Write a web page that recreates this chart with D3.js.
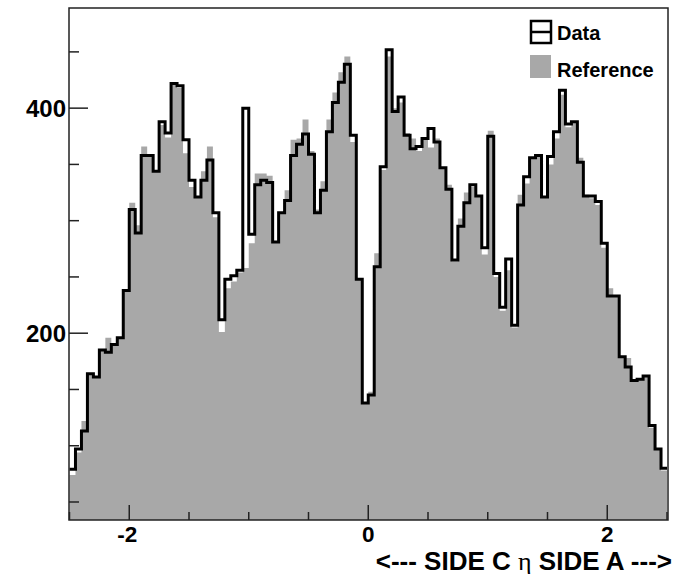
<!DOCTYPE html>
<html>
<head>
<meta charset="utf-8">
<script src="https://cdn.jsdelivr.net/npm/d3@7"></script>
<style>
  html, body { margin: 0; padding: 0; background: #fff; }
  svg { display: block; }
</style>
</head>
<body>
<div id="chart"></div>
<script>
// 100 bins in eta, from -2.5 to 2.5
const BIN_LOW = -2.5
const BIN_WIDTH = 0.05

// black step line
const dataCounts = [
  79, 97, 113, 164, 161, 185, 183, 190, 196, 238,
  310, 289, 358, 358, 344, 388, 378, 422, 420, 372,
  336, 321, 336, 354, 307, 212, 248, 251, 256, 400,
  288, 332, 336, 334, 281, 307, 318, 358, 368, 377,
  359, 307, 327, 379, 405, 423, 439, 376, 248, 138,
  145, 259, 348, 452, 397, 410, 376, 364, 366, 373,
  382, 370, 347, 328, 265, 295, 316, 332, 322, 276,
  375, 253, 223, 266, 207, 314, 339, 356, 358, 321,
  357, 379, 416, 386, 388, 352, 322, 322, 317, 280,
  233, 233, 179, 170, 158, 159, 162, 118, 97, 80
]

// grey filled histogram
const refCounts = [
  74, 94, 122, 163, 161, 185, 196, 190, 196, 238,
  316, 296, 366, 358, 344, 385, 374, 421, 418, 360,
  330, 321, 344, 366, 303, 201, 240, 246, 254, 258,
  280, 342, 342, 340, 281, 307, 327, 372, 373, 390,
  362, 310, 335, 390, 414, 432, 446, 370, 248, 138,
  148, 271, 345, 446, 400, 405, 378, 373, 362, 372,
  365, 373, 346, 332, 264, 302, 325, 330, 322, 270,
  380, 250, 220, 256, 205, 323, 333, 356, 358, 321,
  350, 373, 412, 383, 388, 356, 323, 320, 314, 276,
  240, 233, 179, 178, 158, 159, 162, 116, 97, 78
]

const xMajorTicks = [-2, 0, 2]
const xMinorTicks = [-2.5, -1.5, -1, -0.5, 0.5, 1, 1.5, 2.5]
const yMajorTicks = [200, 400]
const yMinorTicks = [50, 100, 150, 250, 300, 350, 450]
const legendLabels = ['Data', 'Reference']

const W = 688
const H = 574
const plot = { left: 69, right: 668, top: 8, bottom: 520 }
const GREY = '#a8a8a8'
const FONT = '"Liberation Sans", Arial, Helvetica, sans-serif'

const svg = d3.select('#chart').append('svg')
  .attr('width', W)
  .attr('height', H)

const x = d3.scaleLinear()
  .domain([BIN_LOW, BIN_LOW + BIN_WIDTH * dataCounts.length])
  .range([69.5, 667])

const y = d3.scaleLinear()
  .domain([34, 489])
  .range([plot.bottom, plot.top])

const bins = dataCounts.map((d, i) => ({
  lo: BIN_LOW + i * BIN_WIDTH,
  hi: BIN_LOW + (i + 1) * BIN_WIDTH,
  data: d,
  ref: refCounts[i]
}))

svg.append('clipPath').attr('id', 'clip')
  .append('rect')
  .attr('x', plot.left).attr('y', plot.top)
  .attr('width', plot.right - plot.left).attr('height', plot.bottom - plot.top)

const g = svg.append('g').attr('clip-path', 'url(#clip)')

// reference histogram (filled)
const refArea = d3.area()
  .x(d => x(d[0]))
  .y0(plot.bottom)
  .y1(d => y(d[1]))

const refPts = bins.flatMap(b => [[b.lo, b.ref], [b.hi, b.ref]])
g.append('path')
  .attr('d', refArea(refPts))
  .attr('fill', GREY)

// data histogram (outline)
const dataLine = d3.line()
  .x(d => x(d[0]))
  .y(d => y(d[1]))

const dataPts = bins.flatMap(b => [[b.lo, b.data], [b.hi, b.data]])
g.append('path')
  .attr('d', dataLine(dataPts))
  .attr('fill', 'none')
  .attr('stroke', '#000')
  .attr('stroke-width', 3)
  .attr('stroke-linejoin', 'miter')

// frame
svg.append('rect')
  .attr('x', plot.left).attr('y', plot.top)
  .attr('width', plot.right - plot.left).attr('height', plot.bottom - plot.top)
  .attr('fill', 'none')
  .attr('stroke', '#222')
  .attr('stroke-width', 1.5)

// y ticks (inward)
svg.append('g').selectAll('line.ymaj')
  .data(yMajorTicks)
  .join('line')
  .attr('x1', plot.left).attr('x2', plot.left + 19)
  .attr('y1', d => y(d)).attr('y2', d => y(d))
  .attr('stroke', '#222').attr('stroke-width', 1.5)

svg.append('g').selectAll('line.ymin')
  .data(yMinorTicks)
  .join('line')
  .attr('x1', plot.left).attr('x2', plot.left + 10)
  .attr('y1', d => y(d)).attr('y2', d => y(d))
  .attr('stroke', '#222').attr('stroke-width', 1.5)

svg.append('g').selectAll('text')
  .data(yMajorTicks)
  .join('text')
  .attr('x', plot.left - 3)
  .attr('y', d => y(d) + 8.5)
  .attr('text-anchor', 'end')
  .style('font-family', FONT)
  .style('font-weight', 'bold')
  .style('font-size', '24px')
  .text(d => d)

// x ticks (inward)
svg.append('g').selectAll('line')
  .data(xMajorTicks)
  .join('line')
  .attr('x1', d => x(d)).attr('x2', d => x(d))
  .attr('y1', plot.bottom).attr('y2', plot.bottom - 15)
  .attr('stroke', '#222').attr('stroke-width', 1.5)

svg.append('g').selectAll('line')
  .data(xMinorTicks)
  .join('line')
  .attr('x1', d => x(d)).attr('x2', d => x(d))
  .attr('y1', plot.bottom).attr('y2', plot.bottom - 8)
  .attr('stroke', '#222').attr('stroke-width', 1.5)

svg.append('g').selectAll('text')
  .data(xMajorTicks)
  .join('text')
  .attr('x', d => x(d) - (d < 0 ? 2 : 0))
  .attr('y', 542)
  .attr('text-anchor', 'middle')
  .style('font-family', FONT)
  .style('font-weight', 'bold')
  .style('font-size', '22.5px')
  .text(d => d < 0 ? '-' + Math.abs(d) : d)

// axis title
const title = svg.append('text')
  .attr('x', 672)
  .attr('y', 569.5)
  .attr('text-anchor', 'end')
  .style('font-family', FONT)
  .style('font-weight', 'bold')
  .style('font-size', '26px')
title.append('tspan').text('<--- SIDE C ')
title.append('tspan')
  .style('font-family', '"Liberation Serif", "DejaVu Serif", serif')
  .style('font-weight', 'normal')
  .text('\u03b7')
title.append('tspan').text(' SIDE A --->')

// legend
const legend = svg.append('g')
legend.append('rect')
  .attr('x', 531).attr('y', 21).attr('width', 20).attr('height', 22)
  .attr('fill', 'none').attr('stroke', '#000').attr('stroke-width', 2.5)
legend.append('line')
  .attr('x1', 531).attr('x2', 551).attr('y1', 32).attr('y2', 32)
  .attr('stroke', '#000').attr('stroke-width', 2.5)
legend.append('rect')
  .attr('x', 530).attr('y', 55).attr('width', 21).attr('height', 23)
  .attr('fill', GREY)

legend.selectAll('text')
  .data(legendLabels)
  .join('text')
  .attr('x', 557)
  .attr('y', (d, i) => 40 + i * 36.5)
  .style('font-family', FONT)
  .style('font-weight', 'bold')
  .style('font-size', '20px')
  .text(d => d)
</script>
</body>
</html>
